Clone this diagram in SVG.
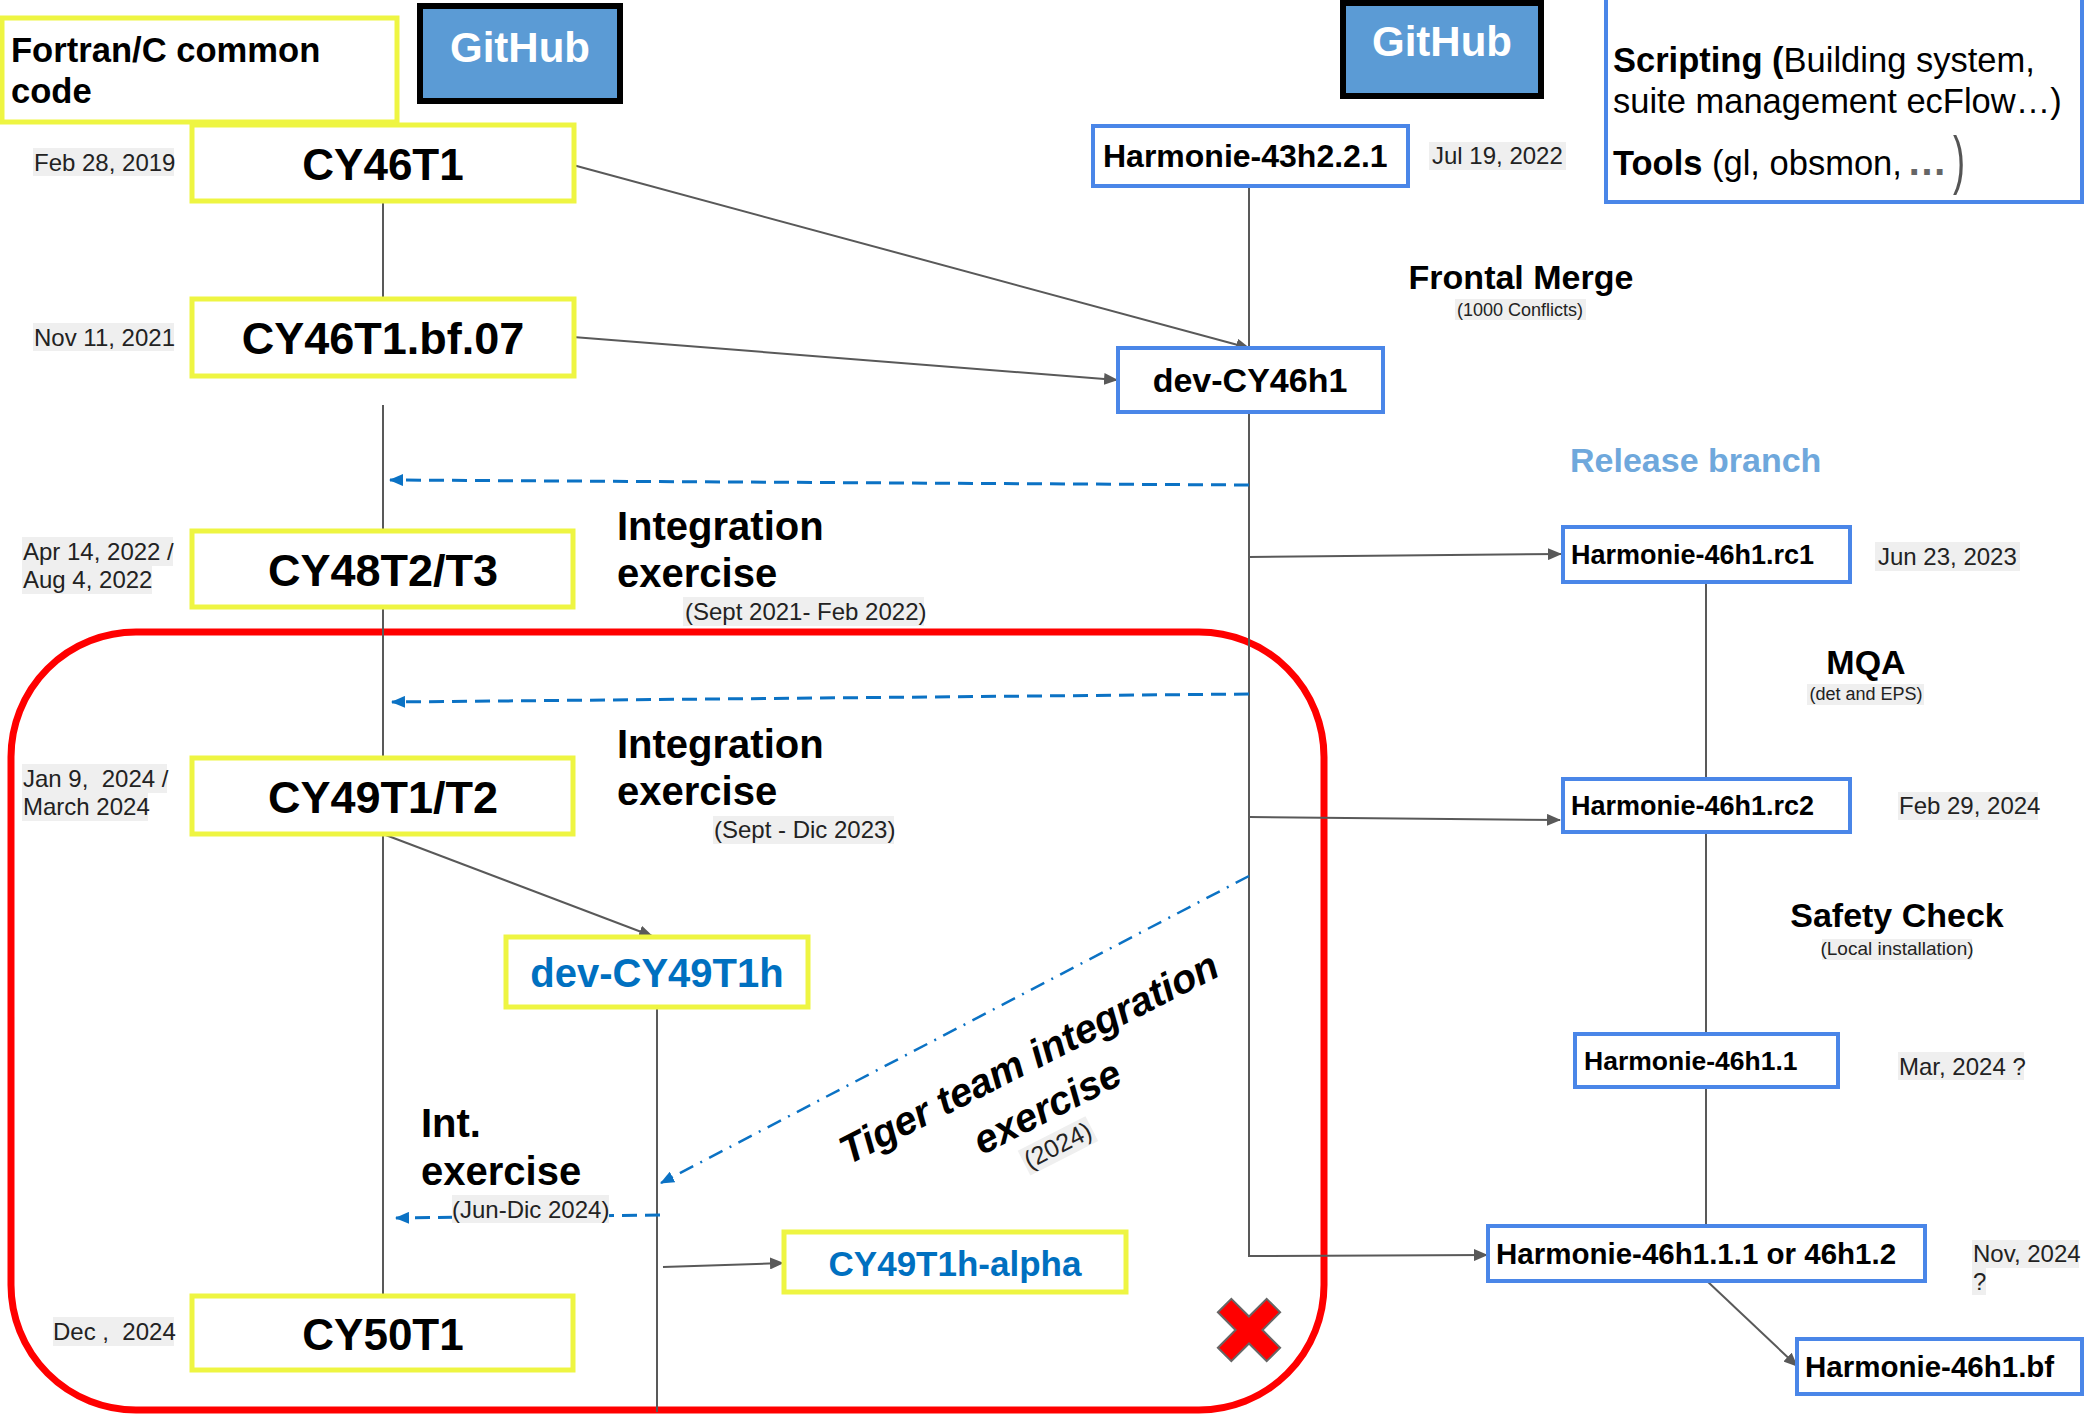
<svg xmlns="http://www.w3.org/2000/svg" width="2084" height="1414" viewBox="0 0 2084 1414">
<defs>
<style>
text{font-family:"Liberation Sans",Arial,sans-serif;}
.yb{fill:#fff;stroke:#eef542;stroke-width:5;}
.bb{fill:#fff;stroke:#4a86e8;stroke-width:4;}
.gh{fill:#5b9bd5;stroke:#000;stroke-width:6;}
.ght{font-size:42px;font-weight:bold;fill:#fff;text-anchor:middle;}
.big{font-weight:bold;fill:#000;text-anchor:middle;}
.blue{fill:#0070c0;}
.hb{font-weight:bold;fill:#000;}
.date{font-size:24px;fill:#222;white-space:pre;}
.dbg{fill:#efefef;}
.lbl{font-size:40px;font-weight:bold;fill:#000;}
.mid{font-size:34px;font-weight:bold;fill:#000;text-anchor:middle;}
.sm{fill:#222;text-anchor:middle;}
.conn{stroke:#595959;stroke-width:2;fill:none;}
.dash{stroke:#0b72c4;stroke-width:3;fill:none;stroke-dasharray:15 8;}
.dashdot{stroke:#0b72c4;stroke-width:2.5;fill:none;stroke-dasharray:15 8 2 8;}
</style>
<marker id="ag" markerUnits="userSpaceOnUse" markerWidth="14" markerHeight="12" refX="13" refY="6" orient="auto"><path d="M0,0 L14,6 L0,12 z" fill="#595959"/></marker>
<marker id="ab" markerUnits="userSpaceOnUse" markerWidth="14" markerHeight="12" refX="13" refY="6" orient="auto"><path d="M0,0 L14,6 L0,12 z" fill="#0b72c4"/></marker>
</defs>
<rect width="2084" height="1414" fill="#fff"/>

<!-- red highlight frame -->
<rect id="red-frame" x="11" y="632" width="1313" height="778" rx="125" ry="125" fill="none" stroke="#ff0000" stroke-width="7"/>

<g id="connectors">
  <line class="conn" x1="383" y1="201" x2="383" y2="299"/>
  <line class="conn" x1="383" y1="405" x2="383" y2="531"/>
  <line class="conn" x1="383" y1="607" x2="383" y2="758"/>
  <line class="conn" x1="383" y1="834" x2="383" y2="1294"/>
  <line class="conn" x1="383" y1="834" x2="652" y2="936" marker-end="url(#ag)"/>
  <line class="conn" x1="657" y1="1007" x2="657" y2="1412"/>
  <line class="conn" x1="663" y1="1267" x2="783" y2="1263" marker-end="url(#ag)"/>
  <line class="conn" x1="573" y1="165" x2="1249" y2="348" marker-end="url(#ag)"/>
  <line class="conn" x1="573" y1="337" x2="1117" y2="380" marker-end="url(#ag)"/>
  <line class="conn" x1="1249" y1="186" x2="1249" y2="348"/>
  <polyline class="conn" points="1249,412 1249,1256 1487,1255" marker-end="url(#ag)"/>
  <line class="conn" x1="1249" y1="557" x2="1561" y2="554" marker-end="url(#ag)"/>
  <line class="conn" x1="1249" y1="817" x2="1560" y2="820" marker-end="url(#ag)"/>
  <line class="conn" x1="1706" y1="582" x2="1706" y2="779"/>
  <line class="conn" x1="1706" y1="832" x2="1706" y2="1034"/>
  <line class="conn" x1="1706" y1="1087" x2="1706" y2="1225"/>
  <line class="conn" x1="1707" y1="1281" x2="1797" y2="1366" marker-end="url(#ag)"/>
  <line class="dash" x1="1249" y1="485" x2="390" y2="480" marker-end="url(#ab)"/>
  <line class="dash" x1="1249" y1="694" x2="392" y2="702" marker-end="url(#ab)"/>
  <line class="dash" x1="660" y1="1215" x2="396" y2="1218" marker-end="url(#ab)"/>
  <line class="dashdot" x1="1249" y1="876" x2="661" y2="1183" marker-end="url(#ab)"/>
</g>

<g id="fortran-c">
  <rect class="yb" x="2" y="18" width="395" height="104"/>
  <text class="hb" x="11" y="62" style="font-size:34.6px">Fortran/C common</text>
  <text class="hb" x="11" y="103" style="font-size:34.6px">code</text>
</g>
<g id="github-1">
  <rect class="gh" x="420" y="6" width="200" height="95"/>
  <text class="ght" x="520" y="62">GitHub</text>
</g>
<g id="github-2">
  <rect class="gh" x="1343" y="3" width="198" height="93"/>
  <text class="ght" x="1442" y="56">GitHub</text>
</g>
<g id="scripting">
  <rect class="bb" x="1606" y="-10" width="476" height="212"/>
  <text x="1613" y="72" style="font-size:34.5px;fill:#000"><tspan font-weight="bold">Scripting (</tspan>Building system,</text>
  <text x="1613" y="113" style="font-size:34.5px;fill:#000">suite management ecFlow…)</text>
  <text x="1613" y="175" style="font-size:34.5px;fill:#000"><tspan font-weight="bold">Tools</tspan> (gl, obsmon,</text>
  <text x="1907" y="175" style="font-size:40px;font-weight:bold;fill:#666">…</text>
  <text x="1953" y="182" style="font-size:64px;fill:#555" textLength="12" lengthAdjust="spacingAndGlyphs">)</text>
</g>

<g id="cy46t1">
  <rect class="yb" x="192" y="125" width="382" height="76"/>
  <text class="big" x="383" y="180" style="font-size:44px">CY46T1</text>
  <rect class="dbg" x="33" y="148" width="141" height="28"/>
  <text class="date" x="34" y="171">Feb 28, 2019</text>
</g>
<g id="cy46t1-bf07">
  <rect class="yb" x="192" y="299" width="382" height="77"/>
  <text class="big" x="383" y="354" style="font-size:45px">CY46T1.bf.07</text>
  <rect class="dbg" x="33" y="323" width="141" height="28"/>
  <text class="date" x="34" y="346">Nov 11, 2021</text>
</g>
<g id="cy48t2">
  <rect class="yb" x="192" y="531" width="381" height="76"/>
  <text class="big" x="383" y="586" style="font-size:45px">CY48T2/T3</text>
  <rect class="dbg" x="22" y="537" width="151" height="29"/>
  <rect class="dbg" x="22" y="566" width="130" height="28"/>
  <text class="date" x="23" y="560">Apr 14, 2022 /</text>
  <text class="date" x="23" y="588">Aug 4, 2022</text>
</g>
<g id="int-ex-1">
  <text class="lbl" x="617" y="540">Integration</text>
  <text class="lbl" x="617" y="587">exercise</text>
  <rect class="dbg" x="683" y="597" width="241" height="29"/>
  <text class="date" x="685" y="620">(Sept 2021- Feb 2022)</text>
</g>
<g id="cy49t1">
  <rect class="yb" x="192" y="758" width="381" height="76"/>
  <text class="big" x="383" y="813" style="font-size:45px">CY49T1/T2</text>
  <rect class="dbg" x="22" y="764" width="145" height="29"/>
  <rect class="dbg" x="22" y="793" width="126" height="28"/>
  <text class="date" x="23" y="787">Jan 9,  2024 /</text>
  <text class="date" x="23" y="815">March 2024</text>
</g>
<g id="int-ex-2">
  <text class="lbl" x="617" y="758">Integration</text>
  <text class="lbl" x="617" y="805">exercise</text>
  <rect class="dbg" x="713" y="816" width="181" height="28"/>
  <text class="date" x="714" y="838">(Sept - Dic 2023)</text>
</g>
<g id="dev-cy49t1h">
  <rect class="yb" x="506" y="937" width="302" height="70"/>
  <text class="big blue" x="657" y="987" style="font-size:40px;fill:#0070c0">dev-CY49T1h</text>
</g>
<g id="int-ex-3">
  <text class="lbl" x="421" y="1137">Int.</text>
  <text class="lbl" x="421" y="1185">exercise</text>
  <rect class="dbg" x="452" y="1195" width="157" height="28"/>
  <text class="date" x="452" y="1218">(Jun-Dic 2024)</text>
</g>
<g id="cy49t1h-alpha">
  <rect class="yb" x="784" y="1232" width="342" height="60"/>
  <text class="big blue" x="955" y="1276" style="font-size:35px;fill:#0070c0">CY49T1h-alpha</text>
</g>
<g id="cy50t1">
  <rect class="yb" x="192" y="1296" width="381" height="74"/>
  <text class="big" x="383" y="1350" style="font-size:44px">CY50T1</text>
  <rect class="dbg" x="53" y="1317" width="121" height="29"/>
  <text class="date" x="53" y="1340">Dec ,  2024</text>
</g>
<g id="tiger-team">
  <g transform="translate(1035,1070) rotate(-27)">
    <text x="0" y="0" style="font-size:40px;font-weight:bold;font-style:italic;text-anchor:middle;fill:#000">Tiger team integration</text>
    <text x="-6" y="52" style="font-size:40px;font-weight:bold;font-style:italic;text-anchor:middle;fill:#000">exercise</text>
    <rect class="dbg" x="-52" y="64" width="76" height="28"/>
    <text x="-14" y="86" style="font-size:25px;text-anchor:middle;fill:#222">(2024)</text>
  </g>
</g>
<g id="red-x">
  <polygon transform="translate(1249,1330) rotate(45)" points="-9.5,-34.5 9.5,-34.5 9.5,-9.5 34.5,-9.5 34.5,9.5 9.5,9.5 9.5,34.5 -9.5,34.5 -9.5,9.5 -34.5,9.5 -34.5,-9.5 -9.5,-9.5" fill="#ff0000" stroke="#666" stroke-width="2"/>
</g>

<g id="harmonie-43h2">
  <rect class="bb" x="1093" y="126" width="315" height="60"/>
  <text class="hb" x="1103" y="167" style="font-size:32px">Harmonie-43h2.2.1</text>
  <rect class="dbg" x="1429" y="142" width="137" height="28"/>
  <text class="date" x="1432" y="164">Jul 19, 2022</text>
</g>
<g id="dev-cy46h1">
  <rect class="bb" x="1118" y="348" width="265" height="64"/>
  <text class="mid" x="1250" y="392">dev-CY46h1</text>
</g>
<g id="frontal-merge">
  <text class="mid" x="1521" y="289">Frontal Merge</text>
  <rect class="dbg" x="1455" y="299" width="131" height="21"/>
  <text class="sm" x="1520" y="316" style="font-size:18px">(1000 Conflicts)</text>
</g>
<g id="release-branch">
  <text x="1570" y="472" style="font-size:34px;font-weight:bold;fill:#6fa8dc">Release branch</text>
</g>
<g id="harmonie-rc1">
  <rect class="bb" x="1563" y="527" width="287" height="55"/>
  <text class="hb" x="1571" y="564" style="font-size:27px">Harmonie-46h1.rc1</text>
  <rect class="dbg" x="1875" y="542" width="145" height="29"/>
  <text class="date" x="1878" y="565">Jun 23, 2023</text>
</g>
<g id="mqa">
  <text class="mid" x="1866" y="674">MQA</text>
  <rect class="dbg" x="1807" y="684" width="117" height="21"/>
  <text class="sm" x="1866" y="700" style="font-size:18px">(det and EPS)</text>
</g>
<g id="harmonie-rc2">
  <rect class="bb" x="1563" y="779" width="287" height="53"/>
  <text class="hb" x="1571" y="815" style="font-size:27px">Harmonie-46h1.rc2</text>
  <rect class="dbg" x="1898" y="792" width="140" height="28"/>
  <text class="date" x="1899" y="814">Feb 29, 2024</text>
</g>
<g id="safety-check">
  <text class="mid" x="1897" y="927">Safety Check</text>
  <rect class="dbg" x="1822" y="939" width="150" height="21"/>
  <text class="sm" x="1897" y="955" style="font-size:19px">(Local installation)</text>
</g>
<g id="harmonie-46h1-1">
  <rect class="bb" x="1575" y="1034" width="263" height="53"/>
  <text class="hb" x="1584" y="1070" style="font-size:26.5px">Harmonie-46h1.1</text>
  <rect class="dbg" x="1898" y="1052" width="126" height="28"/>
  <text class="date" x="1899" y="1075">Mar, 2024 ?</text>
</g>
<g id="harmonie-46h1-1-1">
  <rect class="bb" x="1488" y="1226" width="437" height="55"/>
  <text class="hb" x="1496" y="1264" style="font-size:29.5px">Harmonie-46h1.1.1 or 46h1.2</text>
  <rect class="dbg" x="1972" y="1240" width="107" height="28"/>
  <rect class="dbg" x="1972" y="1268" width="14" height="27"/>
  <text class="date" x="1973" y="1262">Nov, 2024</text>
  <text class="date" x="1973" y="1290">?</text>
</g>
<g id="harmonie-46h1-bf">
  <rect class="bb" x="1797" y="1339" width="285" height="55"/>
  <text class="hb" x="1805" y="1377" style="font-size:29.5px">Harmonie-46h1.bf</text>
</g>
</svg>
